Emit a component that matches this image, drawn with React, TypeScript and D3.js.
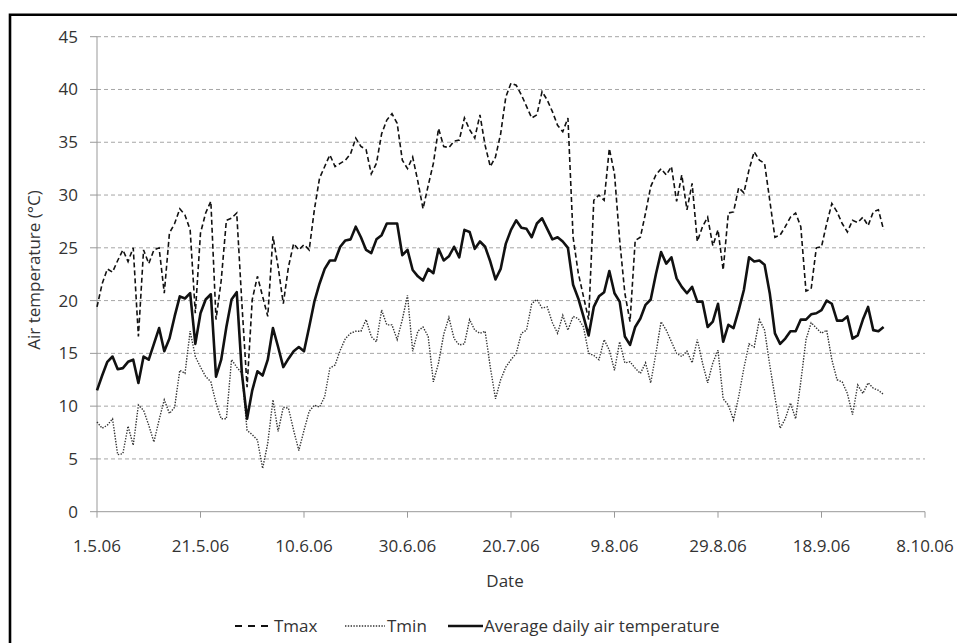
import React from 'react';
import * as d3 from 'd3';

// Daily series, 1.5.06 .. 30.9.06 (one value per day)
const startDate = '1.5.06';

const tmax = [
  19.4, 21.6, 23.0, 22.7, 23.8, 24.8, 23.7, 25.0, 16.6, 24.8,
  23.5, 24.8, 25.0, 20.7, 26.4, 27.3, 28.7, 28.1, 26.7, 18.8,
  26.4, 28.3, 29.4, 18.2, 21.9, 27.6, 27.8, 28.3, 19.7, 11.8,
  20.1, 22.3, 20.4, 18.5, 26.1, 23.2, 19.7, 23.2, 25.4, 24.8,
  25.3, 24.8, 28.6, 31.6, 32.7, 33.8, 32.7, 33.0, 33.3, 33.9,
  35.4, 34.6, 34.3, 32.0, 33.0, 35.8, 37.1, 37.7, 36.8, 33.3,
  32.5, 33.6, 31.3, 28.7, 30.9, 33.0, 36.3, 34.6, 34.5, 35.1,
  35.2, 37.3, 36.2, 35.4, 37.6, 34.7, 32.7, 33.6, 35.8, 39.3,
  40.6, 40.4, 39.5, 38.4, 37.3, 37.6, 39.8, 39.0, 37.9, 36.6,
  36.0, 37.3, 26.0, 22.6, 20.4, 18.2, 29.5, 30.0, 29.5, 34.4,
  32.0, 25.7, 20.7, 18.0, 25.7, 26.0, 28.3, 30.8, 31.9, 32.5,
  31.9, 32.7, 29.4, 31.9, 28.6, 31.1, 25.6, 27.0, 27.9, 25.2,
  26.7, 22.9, 28.3, 28.4, 30.7, 30.2, 32.4, 34.1, 33.3, 33.0,
  29.5, 26.0, 26.2, 27.0, 27.9, 28.3, 27.0, 20.9, 21.1, 25.0,
  25.1, 27.3, 29.2, 28.4, 27.3, 26.5, 27.6, 27.4, 27.9, 27.1,
  28.4, 28.6, 26.7,
];

const tmin = [
  8.5, 7.9, 8.2, 8.8, 5.4, 5.5, 8.1, 6.3, 10.1, 9.6,
  8.2, 6.6, 8.7, 10.6, 9.3, 9.9, 13.4, 13.1, 17.1, 14.7,
  13.7, 12.8, 12.3, 10.3, 8.8, 8.8, 14.4, 13.7, 13.1, 7.7,
  7.3, 6.8, 4.1, 6.5, 10.6, 7.6, 9.9, 9.8, 7.7, 5.8,
  7.7, 9.5, 10.1, 9.9, 10.9, 13.6, 13.9, 15.3, 16.4, 16.9,
  17.1, 17.1, 18.2, 16.6, 16.1, 19.1, 17.7, 17.7, 16.3, 18.2,
  20.5, 15.2, 17.1, 17.5, 16.6, 12.3, 14.1, 16.8, 18.4, 16.4,
  15.8, 15.9, 18.2, 17.2, 16.9, 17.1, 13.7, 10.7, 12.5, 13.7,
  14.4, 15.0, 16.9, 17.2, 19.7, 20.1, 19.3, 19.4, 17.9, 16.9,
  18.6, 17.2, 18.5, 18.3, 17.5, 15.0, 14.8, 14.4, 16.3, 15.3,
  13.4, 16.1, 14.1, 14.2, 13.6, 13.1, 14.1, 12.2, 15.0, 18.0,
  17.2, 16.1, 15.0, 14.7, 15.2, 14.1, 16.3, 14.1, 12.2, 14.1,
  15.3, 10.7, 10.1, 8.7, 10.9, 13.6, 15.9, 15.6, 18.2, 17.2,
  13.9, 10.9, 7.9, 8.8, 10.3, 8.8, 12.3, 16.3, 17.9, 17.4,
  16.9, 17.2, 14.4, 12.5, 12.3, 11.2, 9.2, 12.0, 11.2, 12.2,
  11.7, 11.5, 11.1,
];

const tavg = [
  11.5, 12.9, 14.2, 14.7, 13.5, 13.6, 14.2, 14.4, 12.2, 14.7,
  14.4, 15.9, 17.4, 15.2, 16.4, 18.5, 20.4, 20.2, 20.7, 15.9,
  18.8, 20.1, 20.6, 12.8, 14.4, 17.5, 20.1, 20.8, 13.1, 8.8,
  11.5, 13.3, 12.9, 14.4, 17.4, 15.6, 13.7, 14.5, 15.2, 15.6,
  15.2, 17.5, 19.9, 21.6, 23.0, 23.8, 23.8, 25.1, 25.7, 25.8,
  27.0, 26.0, 24.8, 24.5, 25.8, 26.2, 27.3, 27.3, 27.3, 24.3,
  24.8, 22.9, 22.3, 21.9, 23.0, 22.6, 24.9, 23.8, 24.2, 25.1,
  24.1, 26.7, 26.5, 24.9, 25.6, 25.1, 23.7, 22.0, 23.0, 25.4,
  26.7, 27.6, 26.9, 26.8, 26.0, 27.3, 27.8, 26.8, 25.8, 26.0,
  25.6, 25.0, 21.5, 20.2, 18.5, 16.7, 19.4, 20.4, 20.8, 22.8,
  20.7, 19.9, 16.6, 15.8, 17.5, 18.3, 19.6, 20.1, 22.5, 24.6,
  23.5, 24.1, 22.1, 21.3, 20.7, 21.3, 19.9, 19.9, 17.5, 18.0,
  19.7, 16.1, 17.7, 17.4, 19.1, 21.0, 24.1, 23.7, 23.8, 23.4,
  20.7, 16.9, 15.9, 16.4, 17.1, 17.1, 18.2, 18.2, 18.7, 18.8,
  19.1, 20.0, 19.7, 18.1, 18.1, 18.5, 16.4, 16.7, 18.2, 19.4,
  17.2, 17.1, 17.5,
];

const xTickLabels = ['1.5.06', '21.5.06', '10.6.06', '30.6.06', '20.7.06', '9.8.06', '29.8.06', '18.9.06', '8.10.06'];
const yTicks = [0, 5, 10, 15, 20, 25, 30, 35, 40, 45];
const legendLabels = ['Tmax', 'Tmin', 'Average daily air temperature'];

const width = 957;
const height = 643;
const margin = { left: 97, right: 925, top: 36.7, bottom: 511.7 };
const font = '"Open Sans", sans-serif';
const textColor = '#333';
const axisColor = '#999';

const parseDate = d3.utcParse('%d.%m.%y');

const App = () => {
  const start = parseDate(startDate) as Date;
  const tickDates = xTickLabels.map((s) => parseDate(s) as Date);

  const x = d3.scaleUtc().domain([tickDates[0], tickDates[tickDates.length - 1]]).range([margin.left, margin.right]);
  const y = d3.scaleLinear().domain([0, 45]).range([margin.bottom, margin.top]);

  const dayOf = (i: number) => d3.utcDay.offset(start, i);
  const line = d3
    .line<number>()
    .x((_, i) => x(dayOf(i)))
    .y((d) => y(d));

  return (
    <svg
      width={width}
      height={height}
      style={{ position: 'absolute', left: 0, top: 0, background: '#fff' }}
      fontFamily={font}
    >
      <rect x={0} y={0} width={width} height={height} fill='#fff' />
      {/* frame, cropped at right and bottom */}
      <path d={`M10,${height} L10,14.7 L${width},14.7`} fill='none' stroke='#000' strokeWidth={2.6} />

      {/* grid */}
      {yTicks.slice(1).map((t) => (
        <line key={t} x1={margin.left} x2={margin.right} y1={y(t)} y2={y(t)} stroke='#a6a6a6' strokeWidth={1} strokeDasharray='4,3' />
      ))}

      {/* axes */}
      <line x1={margin.left} x2={margin.left} y1={margin.top} y2={margin.bottom} stroke={axisColor} strokeWidth={1} />
      <line x1={margin.left} x2={margin.right} y1={margin.bottom} y2={margin.bottom} stroke={axisColor} strokeWidth={1} />
      {yTicks.map((t) => (
        <g key={t}>
          <line x1={margin.left - 7} x2={margin.left} y1={y(t)} y2={y(t)} stroke={axisColor} />
          <text x={78} y={y(t) + 6} textAnchor='end' fontSize={17} fill={textColor}>
            {t}
          </text>
        </g>
      ))}
      {tickDates.map((d, i) => (
        <g key={xTickLabels[i]}>
          <line x1={x(d)} x2={x(d)} y1={margin.bottom} y2={margin.bottom + 6} stroke={axisColor} />
          <text x={x(d)} y={552} textAnchor='middle' fontSize={17} fill={textColor}>
            {xTickLabels[i]}
          </text>
        </g>
      ))}

      <text x={505} y={587} textAnchor='middle' fontSize={17} fill={textColor}>
        Date
      </text>
      <text transform='translate(40,270) rotate(-90)' textAnchor='middle' fontSize={17} fill={textColor}>
        Air temperature (°C)
      </text>

      {/* series */}
      <path d={line(tmax) ?? ''} fill='none' stroke='#111' strokeWidth={1.6} strokeDasharray='5,3' />
      <path d={line(tmin) ?? ''} fill='none' stroke='#333' strokeWidth={1.4} strokeDasharray='1.4,1.4' />
      <path d={line(tavg) ?? ''} fill='none' stroke='#111' strokeWidth={2.6} strokeLinejoin='round' />

      {/* legend */}
      <g fontSize={17} fill={textColor}>
        <line x1={235} x2={272} y1={626} y2={626} stroke='#111' strokeWidth={2} strokeDasharray='7,6' />
        <text x={274} y={632}>{legendLabels[0]}</text>
        <line x1={345} x2={385} y1={626} y2={626} stroke='#333' strokeWidth={1.4} strokeDasharray='1.4,1.4' />
        <text x={387} y={632}>{legendLabels[1]}</text>
        <line x1={448} x2={483} y1={626} y2={626} stroke='#111' strokeWidth={2.6} />
        <text x={484} y={632}>{legendLabels[2]}</text>
      </g>
    </svg>
  );
};

export default App;
